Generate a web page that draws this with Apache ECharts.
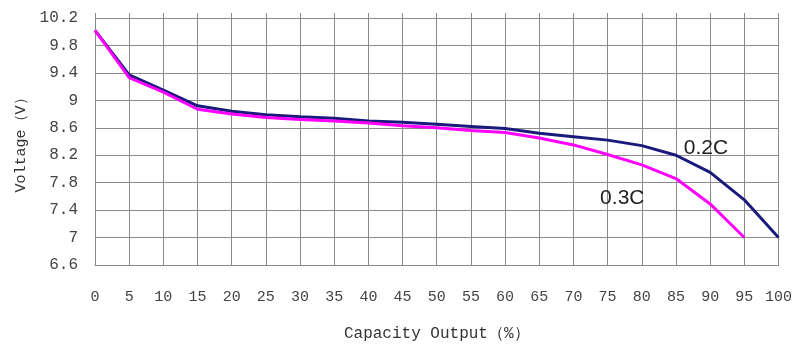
<!DOCTYPE html>
<html lang="en">

<head>
    <meta charset="UTF-8">
    <title>Discharge</title>
    <style>
        * {
            margin: 0;
            padding: 0;
        }

        #main {
            width: 795px;
            height: 347px;
            background: #fff;
        }
    </style>
</head>

<body>
    <div id="main"></div>
</body>
<script src="https://cdn.jsdelivr.net/npm/echarts@6/dist/echarts.min.js"></script>
<script>
    // capacity output (%) and voltage readings
    let capacity = [0, 5, 10, 15, 20, 25, 30, 35, 40, 45, 50, 55, 60, 65, 70, 75, 80, 85, 90, 95, 100];
    let v02C = [10.02, 9.37, 9.15, 8.92, 8.84, 8.79, 8.76, 8.74, 8.70, 8.68, 8.65, 8.62, 8.59, 8.52, 8.47, 8.42, 8.34, 8.20, 7.95, 7.55, 7.00];
    let v03C = [10.02, 9.33, 9.12, 8.87, 8.80, 8.75, 8.72, 8.70, 8.67, 8.63, 8.60, 8.56, 8.53, 8.45, 8.35, 8.21, 8.06, 7.86, 7.49, 7.00];
    let yTicks = [6.6, 7, 7.4, 7.8, 8.2, 8.6, 9, 9.4, 9.8, 10.2];

    function pairs(ys) {
        return ys.map((y, i) => [capacity[i], y]);
    }

    let monoFont = '"Liberation Mono", "DejaVu Sans Mono", monospace';
    let gray = '#8a8a8a';

    let option = {
        animation: false,
        grid: {
            left: 95,
            right: 13,
            top: 18,
            bottom: 75
        },
        xAxis: [
            {
                type: 'value',
                min: 0,
                max: 100,
                interval: 5,
                name: 'Capacity Output（%）',
                nameLocation: 'middle',
                nameGap: 61,
                nameTextStyle: { fontFamily: monoFont, fontSize: 16, color: '#333' },
                axisLine: { show: true, lineStyle: { color: gray } },
                axisTick: { show: false },
                axisLabel: { fontFamily: monoFont, fontSize: 15, color: '#444', margin: 25 },
                splitLine: { show: true, lineStyle: { color: gray, width: 1 } }
            },
            {
                // short stubs of the vertical grid poking above the top line
                type: 'value',
                position: 'top',
                min: 0,
                max: 100,
                interval: 5,
                axisLine: { show: false },
                axisTick: { show: true, length: 5, lineStyle: { color: gray } },
                axisLabel: { show: false },
                splitLine: { show: false }
            }
        ],
        yAxis: {
            type: 'value',
            min: yTicks[0],
            max: yTicks[yTicks.length - 1],
            interval: 0.4,
            name: 'Voltage（V）',
            nameLocation: 'middle',
            nameGap: 63,
            nameTextStyle: { fontFamily: monoFont, fontSize: 15, color: '#333' },
            axisLine: { show: true, lineStyle: { color: gray } },
            axisTick: { show: false },
            axisLabel: {
                fontFamily: monoFont,
                fontSize: 16,
                color: '#444',
                margin: 17,
                formatter: v => String(+v.toFixed(1))
            },
            splitLine: { show: true, lineStyle: { color: gray, width: 1 } }
        },
        series: [
            {
                name: '0.2C',
                type: 'line',
                data: pairs(v02C),
                symbol: 'none',
                lineStyle: { color: '#1a1a7c', width: 3 },
                markPoint: {
                    symbol: 'circle',
                    symbolSize: 0,
                    data: [{ coord: [85, 8.2] }],
                    label: {
                        show: true,
                        formatter: '0.2C',
                        fontFamily: 'Liberation Sans, Arial, sans-serif',
                        fontSize: 21,
                        color: '#222',
                        offset: [30, -7]
                    }
                }
            },
            {
                name: '0.3C',
                type: 'line',
                data: pairs(v03C),
                symbol: 'none',
                lineStyle: { color: '#ff00ff', width: 3 },
                markPoint: {
                    symbol: 'circle',
                    symbolSize: 0,
                    data: [{ coord: [77, 7.8] }],
                    label: {
                        show: true,
                        formatter: '0.3C',
                        fontFamily: 'Liberation Sans, Arial, sans-serif',
                        fontSize: 21,
                        color: '#222',
                        offset: [1, 16]
                    }
                }
            }
        ]
    };

    let myCharts = echarts.init(document.getElementById('main'));
    myCharts.setOption(option);
</script>

</html>
